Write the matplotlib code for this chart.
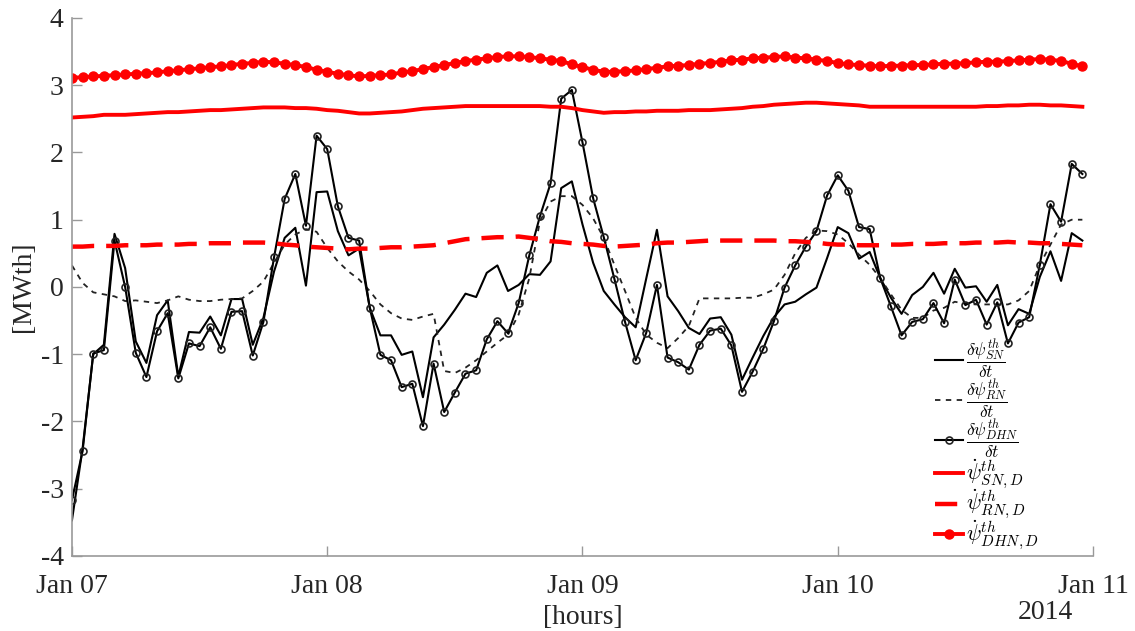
import matplotlib
matplotlib.use("Agg")
import matplotlib.pyplot as plt
import matplotlib.dates as mdates
import numpy as np
import pandas as pd

# hourly time axis, Jan 07 00:00 .. Jan 10 23:00 (2014)
hours = pd.date_range("2014-01-07 00:00", periods=96, freq="h")

d_sn = [-3.47, -2.40, -1.00, -0.86, 0.79, 0.28, -0.81, -1.13, -0.42, -0.20,
        -1.33, -0.67, -0.68, -0.44, -0.72, -0.18, -0.18, -0.86, -0.46, 0.23,
        0.73, 0.88, 0.02, 1.41, 1.42, 0.83, 0.47, 0.57, -0.31, -0.72,
        -0.72, -1.01, -0.96, -1.64, -0.75, -0.56, -0.34, -0.10, -0.15, 0.21,
        0.32, -0.06, 0.03, 0.19, 0.18, 0.38, 1.47, 1.57, 0.93, 0.36,
        -0.06, -0.26, -0.45, -0.60, 0.13, 0.85, -0.14, -0.36, -0.61, -0.70,
        -0.47, -0.45, -0.71, -1.38, -1.05, -0.73, -0.45, -0.26, -0.22, -0.11,
        -0.01, 0.43, 0.89, 0.80, 0.42, 0.52, 0.13, -0.16, -0.40, -0.12,
        0.00, 0.21, -0.10, 0.27, -0.01, 0.01, -0.22, 0.03, -0.57, -0.33,
        -0.40, 0.15, 0.53, 0.09, 0.80, 0.69]

d_rn = [0.32, 0.06, -0.08, -0.11, -0.14, -0.21, -0.20, -0.22, -0.24, -0.20,
        -0.14, -0.19, -0.21, -0.21, -0.19, -0.18, -0.17, -0.06, 0.08, 0.36,
        0.63, 0.78, 0.86, 0.82, 0.58, 0.38, 0.23, 0.11, -0.06, -0.26,
        -0.39, -0.47, -0.49, -0.44, -0.40, -1.25, -1.28, -1.20, -1.09, -0.96,
        -0.83, -0.71, -0.41, 0.13, 0.98, 1.27, 1.35, 1.35, 1.22, 1.02,
        0.73, 0.33, -0.06, -0.46, -0.71, -0.83, -0.91, -0.76, -0.58, -0.17,
        -0.17, -0.17, -0.17, -0.16, -0.16, -0.11, -0.04, 0.18, 0.50, 0.73,
        0.84, 0.83, 0.78, 0.65, 0.48, 0.33, 0.13, -0.11, -0.34, -0.46,
        -0.46, -0.35, -0.31, -0.22, -0.25, -0.26, -0.26, -0.26, -0.26, -0.20,
        -0.06, 0.33, 0.63, 0.93, 1.00, 1.00]

d_dhn = [-3.17, -2.44, -0.99, -0.94, 0.69, 0.00, -0.98, -1.34, -0.66, -0.39,
         -1.36, -0.84, -0.88, -0.60, -0.92, -0.37, -0.36, -1.02, -0.52, 0.44,
         1.31, 1.68, 0.91, 2.25, 2.05, 1.20, 0.73, 0.69, -0.31, -1.01,
         -1.09, -1.49, -1.44, -2.07, -1.14, -1.86, -1.57, -1.29, -1.24, -0.78,
         -0.51, -0.69, -0.24, 0.47, 1.05, 1.54, 2.80, 2.93, 2.15, 1.32,
         0.74, 0.12, -0.52, -1.09, -0.68, 0.03, -1.05, -1.12, -1.23, -0.86,
         -0.65, -0.62, -0.87, -1.56, -1.26, -0.92, -0.51, -0.01, 0.32, 0.60,
         0.83, 1.36, 1.66, 1.43, 0.89, 0.86, 0.13, -0.29, -0.72, -0.52,
         -0.48, -0.24, -0.54, 0.11, -0.27, -0.19, -0.56, -0.23, -0.84, -0.53,
         -0.45, 0.33, 1.23, 0.97, 1.83, 1.68]

sn_d = [2.52, 2.53, 2.54, 2.56, 2.56, 2.56, 2.57, 2.58, 2.59, 2.60,
        2.60, 2.61, 2.62, 2.63, 2.63, 2.64, 2.65, 2.66, 2.67, 2.67,
        2.67, 2.66, 2.66, 2.65, 2.63, 2.62, 2.60, 2.58, 2.58, 2.59,
        2.60, 2.61, 2.63, 2.65, 2.66, 2.67, 2.68, 2.69, 2.69, 2.69,
        2.69, 2.69, 2.69, 2.69, 2.69, 2.68, 2.68, 2.66, 2.63, 2.61,
        2.59, 2.60, 2.60, 2.61, 2.61, 2.62, 2.62, 2.62, 2.63, 2.63,
        2.63, 2.64, 2.65, 2.66, 2.68, 2.69, 2.71, 2.72, 2.73, 2.74,
        2.74, 2.73, 2.72, 2.71, 2.70, 2.68, 2.68, 2.68, 2.68, 2.68,
        2.68, 2.68, 2.68, 2.68, 2.68, 2.68, 2.69, 2.69, 2.70, 2.70,
        2.71, 2.71, 2.70, 2.70, 2.69, 2.68]

rn_d = [0.60, 0.60, 0.61, 0.61, 0.61, 0.62, 0.62, 0.62, 0.63, 0.63,
        0.63, 0.64, 0.64, 0.65, 0.65, 0.65, 0.66, 0.66, 0.66, 0.65,
        0.63, 0.62, 0.60, 0.59, 0.58, 0.57, 0.56, 0.57, 0.57, 0.58,
        0.59, 0.59, 0.60, 0.61, 0.62, 0.65, 0.68, 0.71, 0.72, 0.73,
        0.74, 0.74, 0.75, 0.73, 0.71, 0.68, 0.67, 0.65, 0.64, 0.63,
        0.61, 0.60, 0.61, 0.62, 0.63, 0.65, 0.66, 0.66, 0.67, 0.68,
        0.69, 0.69, 0.69, 0.69, 0.69, 0.69, 0.69, 0.68, 0.68, 0.67,
        0.66, 0.64, 0.63, 0.63, 0.62, 0.62, 0.62, 0.63, 0.63, 0.64,
        0.64, 0.64, 0.65, 0.65, 0.65, 0.66, 0.66, 0.66, 0.67, 0.66,
        0.66, 0.65, 0.65, 0.64, 0.63, 0.62]

dhn_d = [3.11, 3.12, 3.13, 3.14, 3.15, 3.16, 3.17, 3.18, 3.19, 3.21,
         3.22, 3.24, 3.25, 3.27, 3.28, 3.30, 3.32, 3.33, 3.35, 3.34,
         3.32, 3.30, 3.27, 3.23, 3.20, 3.17, 3.15, 3.13, 3.14, 3.15,
         3.16, 3.19, 3.21, 3.24, 3.27, 3.30, 3.33, 3.36, 3.38, 3.40,
         3.42, 3.43, 3.43, 3.42, 3.40, 3.38, 3.36, 3.31, 3.27, 3.23,
         3.20, 3.20, 3.21, 3.22, 3.24, 3.26, 3.28, 3.29, 3.30, 3.32,
         3.33, 3.35, 3.37, 3.38, 3.40, 3.41, 3.42, 3.43, 3.41, 3.40,
         3.38, 3.36, 3.33, 3.31, 3.30, 3.29, 3.28, 3.29, 3.29, 3.30,
         3.30, 3.31, 3.32, 3.32, 3.33, 3.34, 3.35, 3.35, 3.36, 3.37,
         3.38, 3.39, 3.38, 3.36, 3.32, 3.28]

labels = [r"$\dfrac{\delta\psi^{th}_{SN}}{\delta t}$",
          r"$\dfrac{\delta\psi^{th}_{RN}}{\delta t}$",
          r"$\dfrac{\delta\psi^{th}_{DHN}}{\delta t}$",
          r"$\dot{\psi}^{th}_{SN,D}$",
          r"$\dot{\psi}^{th}_{RN,D}$",
          r"$\dot{\psi}^{th}_{DHN,D}$"]

plt.rcParams["font.family"] = ["Liberation Serif", "DejaVu Serif"]
plt.rcParams["mathtext.fontset"] = "cm"
plt.rcParams["axes.unicode_minus"] = False

fig = plt.figure(figsize=(11.35, 6.31), dpi=100)
ax = fig.add_axes([0.0634, 0.119, 0.8996, 0.8525])

ax.plot(hours, d_sn, color="black", lw=1.5, label=labels[0])
ax.plot(hours, d_rn, color="#222222", lw=1.3, ls=(0, (3, 3)), label=labels[1])
ax.plot(hours, d_dhn, color="black", lw=1.5, marker="o", ms=5, mfc="none",
        mec="#222222", mew=1.2, label=labels[2])
ax.plot(hours, sn_d, color="red", lw=2.8, label=labels[3])
ax.plot(hours, rn_d, color="red", lw=3.2, ls=(0, (5, 2.7)), label=labels[4])
ax.plot(hours, dhn_d, color="red", lw=2.8, marker="o", ms=6.5, label=labels[5])

ax.set_xlim(pd.Timestamp("2014-01-07"), pd.Timestamp("2014-01-11"))
ax.set_ylim(-4, 4)
ax.set_yticks(range(-4, 5))
ax.xaxis.set_major_locator(mdates.DayLocator())
ax.xaxis.set_major_formatter(mdates.DateFormatter("%b %d"))

for s in ["top", "right"]:
    ax.spines[s].set_visible(False)
for s in ["left", "bottom"]:
    ax.spines[s].set_color("#999999")
    ax.spines[s].set_linewidth(1.2)
ax.tick_params(direction="in", length=7, width=1, color="#999999",
               labelcolor="#262626", labelsize=20)
ax.tick_params(axis="x", pad=13)
ax.tick_params(axis="y", pad=6)

ax.set_ylabel("[MWth]", fontsize=20, color="#262626", labelpad=3)
ax.set_xlabel("[hours]", fontsize=20, color="#262626", labelpad=4)
ax.text(0.953, -0.105, "2014", transform=ax.transAxes, ha="center",
        va="center", fontsize=20, color="#262626")

leg = ax.legend(loc="lower left", bbox_to_anchor=(0.835, -0.01), frameon=False,
                fontsize=12.5, handlelength=1.6, handletextpad=0.2,
                labelspacing=-0.15, borderaxespad=0.2)
for t in leg.get_texts()[3:]:
    t.set_fontsize(15.5)

fig.savefig("out.png", dpi=100)
